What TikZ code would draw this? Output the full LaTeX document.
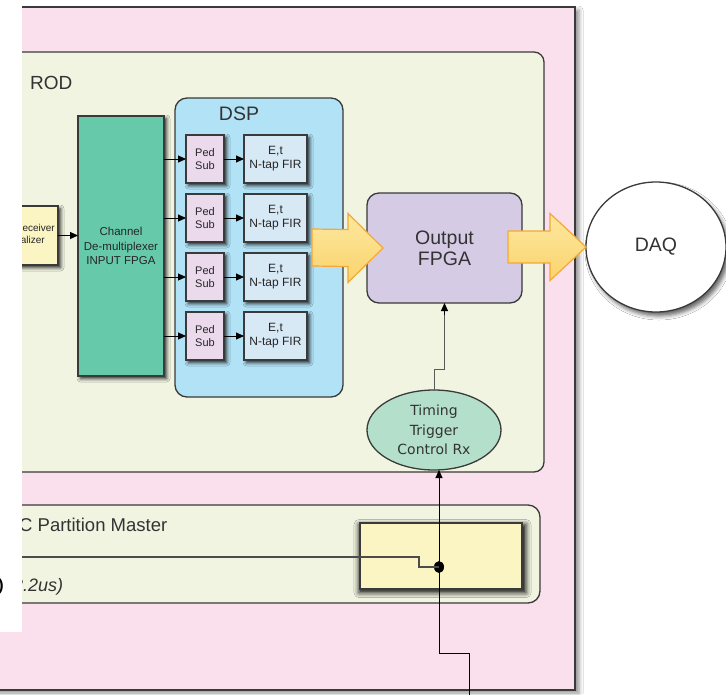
\documentclass[tikz,border=0pt]{standalone}
\usepackage{fontspec}
\setmainfont{Liberation Sans}
\newfontfamily\humfont{DejaVu Sans}
\usetikzlibrary{arrows.meta,shapes.geometric,calc,shadows.blur}

\definecolor{pinkbg}{HTML}{FADFEC}
\definecolor{rodbg}{HTML}{F0F4E0}
\definecolor{dspbg}{HTML}{B2E2F6}
\definecolor{demuxc}{HTML}{66C9AA}
\definecolor{pedc}{HTML}{EADAEC}
\definecolor{firc}{HTML}{D8E9F6}
\definecolor{yelc}{HTML}{FBF5C4}
\definecolor{fpgac}{HTML}{D6CBE5}
\definecolor{mint}{HTML}{B4E0CB}
\definecolor{edge}{HTML}{3A3A3A}
\definecolor{txt}{HTML}{333333}
\definecolor{arrtop}{HTML}{FDE8A0}
\definecolor{arrbot}{HTML}{FAD36C}
\definecolor{arredge}{HTML}{F5A833}

% big hollow flow arrow: start, tip, body half-height, head half-height, head length
\newcommand\flowarrow[5]{%
  \draw[bigarr] ($(#1)+(0,-#3)$) -- ($(#2)+(-#5,-#3)$) -- ($(#2)+(-#5,-#4)$)
    -- (#2) -- ($(#2)+(-#5,#4)$) -- ($(#2)+(-#5,#3)$) -- ($(#1)+(0,#3)$) -- cycle;}

\begin{document}
\begin{tikzpicture}[x=1pt,y=-1pt,
  box/.style={draw=edge, line width=1.3pt, inner sep=0pt, outer sep=0pt, text=txt},
  shd/.style={blur shadow={shadow xshift=2.5pt, shadow yshift=-2.5pt, shadow blur radius=3.5pt, shadow opacity=85}},
  glow/.style={blur shadow={shadow xshift=1.5pt, shadow yshift=-2.5pt, shadow scale=1.03, shadow blur radius=5pt, shadow opacity=95}},
  tip/.style={-{Triangle[length=8pt,width=7pt]}, line width=1pt, black},
  sig/.style={line width=1pt, black},
  bigarr/.style={draw=arredge, line width=1.2pt, top color=arrtop, bottom color=arrbot, line join=miter},
  small/.style={font=\fontsize{11}{13.5}\selectfont, align=center, text=black!85},
  big/.style={font=\fontsize{19.5}{21}\selectfont, text=txt}]
\useasboundingbox (0,0) rectangle (726,694);
\clip (0,0) rectangle (726,694);
\fill[white] (0,0) rectangle (726,694);

% crate and the two boards
\node[box, line width=2pt, fill=pinkbg,
  blur shadow={shadow xshift=4pt, shadow yshift=-3pt, shadow blur radius=4pt, shadow opacity=45},
  minimum width=605pt, minimum height=683pt] (crate) at (272.5,348.5) {};
\node[box, fill=rodbg, rounded corners=10pt, minimum width=574pt, minimum height=420pt] (rod) at (257,262) {};
\node[box, fill=rodbg, rounded corners=12pt, minimum width=570pt, minimum height=98pt] (part) at (255,554) {};

\node[anchor=base west, font=\fontsize{19}{22}\selectfont, text=txt, inner sep=0pt] (rodlbl) at (30,89) {ROD};

% receiver and input FPGA
\node[box, shd, fill=yelc, minimum width=78pt, minimum height=59pt] (rx) at (19,235.5) {};
\node[anchor=base east, font=\fontsize{10}{12}\selectfont, text=black!85, inner sep=0pt] (rxa) at (55,231) {Receiver};
\node[anchor=base east, font=\fontsize{10}{12}\selectfont, text=black!85, inner sep=0pt] (rxb) at (45,243) {Serializer};
\node[box, shd, fill=demuxc, minimum width=86pt, minimum height=260pt,
  font=\fontsize{11.5}{14.5}\selectfont, text=black!85, align=center] (demux) at (121,246)
  {Channel\\De-multiplexer\\INPUT FPGA};
\draw[tip] (rx.east) -- (rx.east -| demux.west);

% DSP with four channels
\node[box, fill=dspbg, rounded corners=12pt, minimum width=168pt, minimum height=299pt] (dsp) at (259,247.5) {};
\node[big, inner sep=0pt] (dsplbl) at (239,114) {DSP};
\foreach \i/\yy in {1/159,2/218,3/277,4/336} {
  \node[box, shd, fill=pedc, small, minimum width=38pt, minimum height=48pt] (ped\i) at (205,\yy) {Ped\\Sub};
  \node[box, shd, fill=firc, small, font=\fontsize{12}{14}\selectfont, minimum width=63pt, minimum height=48pt] (fir\i) at (275.5,\yy) {E,t\\N-tap FIR};
  \draw[tip] (demux.east |- ped\i.west) -- (ped\i.west);
  \draw[tip] (ped\i) -- (fir\i);
}

% output stage
\node[box, fill=fpgac, rounded corners=12pt, minimum width=155pt, minimum height=110pt,
  big, align=center] (fpga) at (444.5,248) {Output\\FPGA};
\node[box, ellipse, fill=white, blur shadow={shadow xshift=3pt, shadow yshift=-4pt, shadow blur radius=4pt, shadow opacity=60},
  minimum width=140pt, minimum height=130pt, big] (daq) at (656,247) {DAQ};

\coordinate (a1s) at ($(dsp.east)+(-31,0)$);
\coordinate (a1t) at ($(fpga.west)+(16,0)$);
\coordinate (a2s) at ($(fpga.east)+(-14,-1)$);
\coordinate (a2t) at (daq.west);
\flowarrow{a1s}{a1t}{18.5}{34.5}{35}
\flowarrow{a2s}{a2t}{16}{33.5}{36}

% timing receiver
\node[box, ellipse, fill=mint, minimum width=134pt, minimum height=80pt,
  font=\humfont\fontsize{14}{19.5}\selectfont, align=center] (timing) at (434,430)
  {Timing\\Trigger\\Control Rx};
\draw[line width=1pt, black!65] (timing.north) -- ++(0,-21) -| (fpga.south);
\draw[tip] ($(fpga.south)+(0,12)$) -- (fpga.south);

% partition master
\node[anchor=base west, font=\fontsize{18.5}{22}\selectfont, text=txt, inner sep=0pt] (pmlbl) at (19,531) {C Partition Master};
\node[anchor=base west, font=\itshape\fontsize{18}{22}\selectfont, text=txt, inner sep=0pt] (lat) at (13,591) {2.2us)};
\node[box, glow, fill=yelc, minimum width=162pt, minimum height=66pt] (ybox) at (441,556) {};
\fill (439,567) ellipse [x radius=5pt, y radius=6pt];
\coordinate (dot) at (439,567);
\coordinate (rowl) at (0,557);
\draw[line width=1.1pt, black!70] (rowl) -- (419,557) -- (419,567) -- (dot);

% TTC input line
\coordinate (ttcin) at (469,700);
\draw[sig] (ttcin) -- (469,653) -- (439,653) -- (dot);
\draw[tip] (dot) -- (timing.south -| dot);

% page mask on the left
\fill[white] (-5,-5) rectangle (22,632);
\node[anchor=base east, font=\bfseries\fontsize{16}{18}\selectfont, inner sep=0pt] (paren) at (4,590) {)};
\end{tikzpicture}
\end{document}
